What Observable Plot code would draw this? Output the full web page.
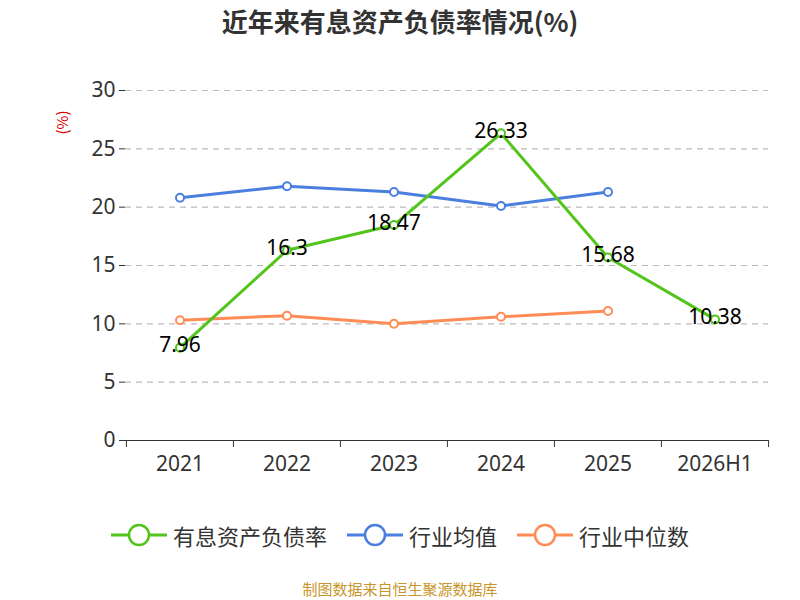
<!DOCTYPE html>
<html><head><meta charset="utf-8">
<script src="https://cdn.jsdelivr.net/npm/d3@7"></script>
<script src="https://cdn.jsdelivr.net/npm/@observablehq/plot@0.6"></script>
<style>
body{margin:0;font-family:"Noto Sans CJK SC","Noto Sans",sans-serif;}
#wrap{position:relative;width:800px;height:600px;}
.abs{position:absolute;}
</style></head><body>
<div id="wrap">
<div class="abs" style="top:2px;left:0;width:800px;text-align:center;font-size:26px;font-weight:bold;color:#333">近年来有息资产负债率情况(%)</div>
<div class="abs" style="left:50px;top:112px;color:#e00000;font-size:15px;transform:rotate(-90deg);transform-origin:center">(%)</div>
<div id="chart" class="abs" style="top:0;left:0"></div>
<div id="legend" class="abs" style="top:519px;left:0;width:800px;display:flex;justify-content:center;gap:20px;font-size:22px;color:#333"></div>
<div class="abs" style="top:578px;left:0;width:800px;text-align:center;font-size:15px;color:#c8962a">制图数据来自恒生聚源数据库</div>
</div>
<script>
const years=["2021","2022","2023","2024","2025","2026H1"];
const rate=[7.96,16.3,18.47,26.33,15.68,10.38];
const avgYears=["2021","2022","2023","2024","2025"];
const avg=[20.8,21.8,21.3,20.1,21.3];
const med=[10.3,10.7,10.0,10.6,11.1];
const yTicks=[0,5,10,15,20,25,30];
const cG="#52c41a",cB="#4a7fe0",cO="#ff8c55";
const r=years.map((y,i)=>({x:y,v:rate[i]}));
const a=avgYears.map((y,i)=>({x:y,v:avg[i]}));
const m=avgYears.map((y,i)=>({x:y,v:med[i]}));
const W=800,ml=125,mr=32,bw=(W-ml-mr)/years.length;
const p=Plot.plot({width:W,height:600,marginTop:90,marginBottom:160,marginLeft:ml,marginRight:mr,
style:{fontSize:"20px",fontFamily:"Noto Sans, sans-serif",color:"#333",background:"transparent"},
x:{type:"band",domain:years,padding:0,label:null},
y:{domain:[0,30],label:null},
marks:[
Plot.ruleY(yTicks.filter(t=>t>0),{y:d=>d,stroke:"#bbb",strokeDasharray:"6,5",strokeWidth:1.2}),
Plot.axisY({ticks:yTicks,tickSize:6,tickPadding:4,fontSize:21,stroke:"#333"}),
Plot.ruleX([0],{x1:ml,x2:ml,y1:0,y2:30,stroke:"#333"}),
Plot.ruleY([0],{stroke:"#333"}),
Plot.axisX({tickSize:0,tickPadding:16,fontSize:21}),
Plot.ruleX(years,{x:d=>d,dx:-bw/2,y1:0,y2:-0.6,stroke:"#333"}),
Plot.ruleX(["2026H1"],{x:d=>d,dx:bw/2,y1:0,y2:-0.6,stroke:"#333"}),
Plot.line(a,{x:"x",y:"v",stroke:cB,strokeWidth:3}),
Plot.dot(a,{x:"x",y:"v",r:4,fill:"white",stroke:cB,strokeWidth:2}),
Plot.line(m,{x:"x",y:"v",stroke:cO,strokeWidth:3}),
Plot.dot(m,{x:"x",y:"v",r:4,fill:"white",stroke:cO,strokeWidth:2}),
Plot.line(r,{x:"x",y:"v",stroke:cG,strokeWidth:3}),
Plot.dot(r,{x:"x",y:"v",r:4,fill:"white",stroke:cG,strokeWidth:2}),
Plot.text(r,{x:"x",y:"v",text:d=>String(d.v),fontSize:21,fill:"black",dy:-2})
]});
document.getElementById("chart").appendChild(p);
const lg=document.getElementById("legend");
[["有息资产负债率",cG],["行业均值",cB],["行业中位数",cO]].forEach(([t,c])=>{
lg.insertAdjacentHTML("beforeend",`<span style="display:flex;align-items:center;gap:6px"><svg width="56" height="30"><line x1="0" y1="15" x2="56" y2="15" stroke="${c}" stroke-width="3"/><circle cx="28" cy="15" r="10" fill="white" stroke="${c}" stroke-width="2.5"/></svg>${t}</span>`);
});
</script></body></html>
